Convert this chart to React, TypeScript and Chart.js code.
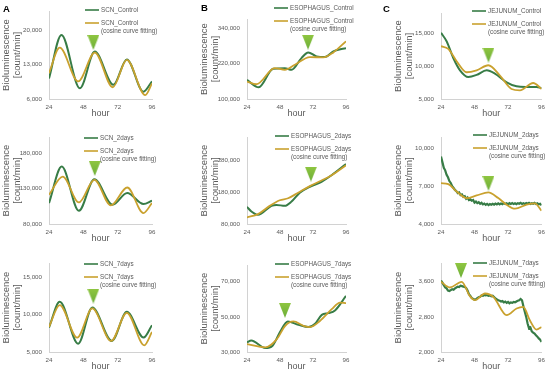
import React, { useEffect, useRef } from 'react';
import { Chart, registerables } from 'chart.js';

Chart.register(...registerables);

// ---------- data ----------
const HOUR_TICKS = [24, 48, 72, 96];
const FIT_NOTE = '(cosine curve fitting)';

// SCN
const SCN_CONTROL_H = [24, 32.7, 45.6, 56, 69, 78.4, 90, 96];
const SCN_CONTROL_V = [10200, 19100, 8200, 15700, 8900, 14100, 7500, 9600];
const SCN_CONTROL_FIT_H = [24, 31.5, 44.4, 56, 68.6, 78.4, 91.3, 96];
const SCN_CONTROL_FIT_V = [11300, 16500, 9600, 15500, 8400, 14000, 6800, 9200];

const SCN_2DAYS_H = [24, 32.9, 44.9, 55.7, 68.4, 78.7, 90, 96];
const SCN_2DAYS_V = [109600, 161200, 98800, 143400, 107200, 123700, 108200, 112900];
const SCN_2DAYS_FIT_H = [24, 33.6, 44.9, 55.7, 67.2, 78.7, 90, 96];
const SCN_2DAYS_FIT_V = [121300, 147100, 110500, 142400, 106300, 131600, 95500, 109600];

const SCN_7DAYS_H = [24, 31.5, 44.4, 54.3, 67.9, 78.4, 90.1, 96];
const SCN_7DAYS_V = [8270, 11730, 6120, 10960, 6480, 10380, 6930, 8590];
const SCN_7DAYS_FIT_H = [24, 31.5, 43.7, 54.3, 67.4, 78.4, 90.6, 96];
const SCN_7DAYS_FIT_V = [8360, 11280, 6930, 10830, 6480, 10250, 5900, 7690];

// ESOPHAGUS
const ESO_CONTROL_H = [24, 32.5, 43, 51.5, 56.4, 63.6, 68.5, 74.6, 80.7, 86.8, 92.8, 96];
const ESO_CONTROL_V = [164500, 139600, 201900, 204100, 198500, 238100, 257300, 243800, 241500, 260700, 268700, 270900];
const ESO_CONTROL_FIT_H = [24, 30.8, 44.2, 51.5, 58.8, 69.7, 79.5, 86.8, 96];
const ESO_CONTROL_FIT_V = [158900, 149800, 204100, 198500, 215500, 241500, 240400, 257300, 294700];

const ESO_2DAYS_H = [24, 27.2, 32, 41.8, 45.4, 51.5, 56.4, 62.4, 69.7, 78.2, 85.5, 96];
const ESO_2DAYS_V = [134200, 119600, 109200, 137300, 140400, 137300, 150800, 179000, 197700, 213300, 234200, 269600];
const ESO_2DAYS_FIT_H = [24, 32, 40.5, 47.8, 53.9, 61.2, 69.7, 78.2, 85.5, 96];
const ESO_2DAYS_FIT_V = [100800, 111300, 137300, 155000, 161300, 179000, 199800, 217500, 234200, 265400];

const ESO_7DAYS_H = [24, 27.1, 37.3, 42.6, 48.2, 53.7, 61.4, 68.7, 73.5, 78.4, 83.2, 88, 96];
const ESO_7DAYS_V = [35470, 36600, 32260, 33590, 41700, 47360, 45470, 44150, 46040, 51130, 52080, 53590, 61890];
const ESO_7DAYS_FIT_H = [24, 37.3, 45.7, 51.8, 57.8, 65.1, 69.9, 77.2, 85.6, 91.6, 96];
const ESO_7DAYS_FIT_V = [34530, 32640, 37360, 44910, 47360, 44910, 44150, 47740, 54340, 58120, 57740];

// JEJUNUM
const JEJ_CONTROL_H = [24, 28.1, 32.8, 37.6, 43.6, 49.5, 56.7, 62.6, 71, 78.1, 85.3, 92.4, 96];
const JEJ_CONTROL_V = [15000, 13700, 11200, 9340, 8330, 8640, 9340, 8840, 7530, 6920, 6820, 6800, 6670];
const JEJ_CONTROL_FIT_H = [24, 29.2, 35.2, 42.4, 49.5, 57.9, 66.2, 74.5, 80.5, 90, 96];
const JEJ_CONTROL_FIT_V = [12980, 12580, 10710, 9040, 9340, 10100, 8540, 6520, 6310, 7420, 6520];

const JEJ_HOURLY_H = [
  24, 25, 26, 27, 28, 29, 30, 31, 32, 33, 34, 35, 36, 37, 38, 39, 40, 41, 42, 43, 44, 45, 46, 47, 48,
  49, 50, 51, 52, 53, 54, 55, 56, 57, 58, 59, 60, 61, 62, 63, 64, 65, 66, 67, 68, 69, 70, 71, 72,
  73, 74, 75, 76, 77, 78, 79, 80, 81, 82, 83, 84, 85, 86, 87, 88, 89, 90, 91, 92, 93, 94, 95, 96,
];
const JEJ_2DAYS_V = [
  9350, 8900, 8450, 8250, 7900, 7700, 7400, 7250, 7000, 6850, 6700, 6600, 6450, 6500, 6300, 6350, 6150, 6200, 6000, 6100, 5900, 5950, 5850, 5900, 5700,
  5780, 5650, 5720, 5600, 5680, 5550, 5620, 5520, 5600, 5500, 5580, 5520, 5600, 5530, 5620, 5550, 5640, 5560, 5630, 5570, 5650, 5580, 5640, 5560,
  5650, 5590, 5660, 5580, 5640, 5570, 5650, 5600, 5670, 5590, 5650, 5580, 5660, 5600, 5680, 5590, 5650, 5600, 5670, 5580, 5640, 5560, 5600, 5480,
];
const JEJ_2DAYS_FIT_H = [24, 29.2, 35.2, 42.4, 49.5, 57.9, 65, 71, 77, 85.3, 91.2, 96];
const JEJ_2DAYS_FIT_V = [7235, 7160, 6580, 6050, 6260, 6500, 6050, 5530, 5210, 5530, 5630, 5050];

const JEJ_7DAYS_V = [
  3630, 3580, 3520, 3470, 3450, 3400, 3390, 3410, 3430, 3420, 3450, 3470, 3490, 3480, 3510, 3500, 3490, 3480, 3460, 3400, 3320, 3280, 3230, 3210, 3190,
  3200, 3230, 3250, 3260, 3290, 3280, 3300, 3290, 3300, 3280, 3290, 3270, 3280, 3250, 3220, 3200, 3180, 3170, 3150, 3160, 3130, 3150, 3120, 3140,
  3110, 3130, 3120, 3140, 3130, 3150, 3170, 3180, 3210, 3180, 3040, 2920, 2800, 2650, 2540, 2560, 2470, 2440, 2420, 2380, 2350, 2310, 2280, 2230,
];
const JEJ_7DAYS_FIT_H = [24, 30.4, 38.8, 44.7, 48.3, 55.5, 61.5, 71, 78.1, 82.9, 87.6, 92.4, 96];
const JEJ_7DAYS_FIT_V = [3600, 3470, 3600, 3272, 3181, 3333, 3257, 2838, 2990, 3029, 2724, 2510, 2571];

// arrow markers (hour, value)
const MARKER_H = [55, 68.4, 58, 56, 70.5, 58, 55, 51.6, 38.3];
const MARKER_V = [17580, 291800, 11640, 158600, 237800, 7220, 12490, 53680, 3856];

// y axes
const Y_MIN = [6000, 100000, 5000, 80000, 80000, 4000, 5000, 30000, 2000];
const Y_MAX = [24000, 370000, 18000, 203000, 355000, 10890, 16920, 79460, 4028];
const Y_TICKS = [
  [6000, 13000, 20000], [100000, 220000, 340000], [5000, 10000, 15000],
  [80000, 130000, 180000], [80000, 180000, 280000], [4000, 7000, 10000],
  [5000, 10000, 15000], [30000, 50000, 70000], [2000, 2800, 3600],
];

// ---------- styling / layout ----------
const OBS = '#377c46';
const FIT = '#c9a12e';
const TEXT = '#595959';
const AXIS = '#d2d2d2';
const FONT = '"Liberation Sans", Arial, sans-serif';

const COLS = [
  { left: 0, width: 183, axis: 49, right: 152 },
  { left: 183, width: 184, axis: 247, right: 346 },
  { left: 367, width: 183, axis: 441, right: 542 },
];
const ROWS = [
  { top: 0, height: 125, bottom: 99 },
  { top: 125, height: 125, bottom: 224 },
  { top: 250, height: 124, bottom: 352 },
];

type Panel = {
  col: number; row: number; chartTop: number;
  obsLabel: string; fitLabel: string;
  obsH: number[]; obsV: number[]; fitH: number[]; fitV: number[];
  noisy: boolean; legend: [number, number]; letter?: string; letterPos?: [number, number];
};

const PANELS: Panel[] = [
  { col: 0, row: 0, chartTop: 11, obsLabel: 'SCN_Control', fitLabel: 'SCN_Control', obsH: SCN_CONTROL_H, obsV: SCN_CONTROL_V, fitH: SCN_CONTROL_FIT_H, fitV: SCN_CONTROL_FIT_V, noisy: false, legend: [85, 10], letter: 'A', letterPos: [3, 9] },
  { col: 1, row: 0, chartTop: 19, obsLabel: 'ESOPHAGUS_Control', fitLabel: 'ESOPHAGUS_Control', obsH: ESO_CONTROL_H, obsV: ESO_CONTROL_V, fitH: ESO_CONTROL_FIT_H, fitV: ESO_CONTROL_FIT_V, noisy: false, legend: [274, 8], letter: 'B', letterPos: [201, 8] },
  { col: 2, row: 0, chartTop: 13, obsLabel: 'JEJUNUM_Control', fitLabel: 'JEJUNUM_Control', obsH: JEJ_CONTROL_H, obsV: JEJ_CONTROL_V, fitH: JEJ_CONTROL_FIT_H, fitV: JEJ_CONTROL_FIT_V, noisy: false, legend: [472, 11], letter: 'C', letterPos: [383, 9] },
  { col: 0, row: 1, chartTop: 137, obsLabel: 'SCN_2days', fitLabel: 'SCN_2days', obsH: SCN_2DAYS_H, obsV: SCN_2DAYS_V, fitH: SCN_2DAYS_FIT_H, fitV: SCN_2DAYS_FIT_V, noisy: false, legend: [84, 138] },
  { col: 1, row: 1, chartTop: 137, obsLabel: 'ESOPHAGUS_2days', fitLabel: 'ESOPHAGUS_2days', obsH: ESO_2DAYS_H, obsV: ESO_2DAYS_V, fitH: ESO_2DAYS_FIT_H, fitV: ESO_2DAYS_FIT_V, noisy: false, legend: [275, 136] },
  { col: 2, row: 1, chartTop: 137, obsLabel: 'JEJUNUM_2days', fitLabel: 'JEJUNUM_2days', obsH: JEJ_HOURLY_H, obsV: JEJ_2DAYS_V, fitH: JEJ_2DAYS_FIT_H, fitV: JEJ_2DAYS_FIT_V, noisy: true, legend: [473, 135] },
  { col: 0, row: 2, chartTop: 263, obsLabel: 'SCN_7days', fitLabel: 'SCN_7days', obsH: SCN_7DAYS_H, obsV: SCN_7DAYS_V, fitH: SCN_7DAYS_FIT_H, fitV: SCN_7DAYS_FIT_V, noisy: false, legend: [84, 264] },
  { col: 1, row: 2, chartTop: 265, obsLabel: 'ESOPHAGUS_7days', fitLabel: 'ESOPHAGUS_7days', obsH: ESO_7DAYS_H, obsV: ESO_7DAYS_V, fitH: ESO_7DAYS_FIT_H, fitV: ESO_7DAYS_FIT_V, noisy: false, legend: [275, 264] },
  { col: 2, row: 2, chartTop: 263, obsLabel: 'JEJUNUM_7days', fitLabel: 'JEJUNUM_7days', obsH: JEJ_HOURLY_H, obsV: JEJ_7DAYS_V, fitH: JEJ_7DAYS_FIT_H, fitV: JEJ_7DAYS_FIT_V, noisy: true, legend: [473, 263] },
];

function pts(h: number[], v: number[]) {
  return h.map((x, i) => ({ x, y: v[i] }));
}

function makeTriangle(): HTMLCanvasElement {
  const c = document.createElement('canvas');
  c.width = 12;
  c.height = 15;
  const g = c.getContext('2d')!;
  const grad = g.createLinearGradient(0, 0, 0, 15);
  grad.addColorStop(0, '#8fc641');
  grad.addColorStop(1, '#6cae38');
  g.fillStyle = grad;
  g.beginPath();
  g.moveTo(0, 0);
  g.lineTo(12, 0);
  g.lineTo(6, 15);
  g.closePath();
  g.fill();
  return c;
}

export default function App() {
  const refs = useRef<(HTMLCanvasElement | null)[]>([]);

  useEffect(() => {
    const tri = makeTriangle();
    const charts = PANELS.map((p, i) => {
      const canvas = refs.current[i]!;
      const c = COLS[p.col];
      const r = ROWS[p.row];
      const yW = c.axis - c.left;
      const xH = 22;
      const padTop = p.chartTop - r.top;
      const padBottom = r.height - (r.bottom - r.top) - xH;
      const padRight = c.width - (c.right - c.left);

      const overlay = {
        id: 'overlay' + i,
        afterDraw(chart: any) {
          const ctx = chart.ctx as CanvasRenderingContext2D;
          const lx = p.legend[0] - c.left;
          const ly = p.legend[1] - r.top;
          ctx.save();
          ctx.lineWidth = 1.6;
          ctx.strokeStyle = OBS;
          ctx.beginPath();
          ctx.moveTo(lx, ly);
          ctx.lineTo(lx + 14, ly);
          ctx.stroke();
          ctx.strokeStyle = FIT;
          ctx.beginPath();
          ctx.moveTo(lx, ly + 13);
          ctx.lineTo(lx + 14, ly + 13);
          ctx.stroke();
          ctx.fillStyle = TEXT;
          ctx.font = `6.3px ${FONT}`;
          ctx.textAlign = 'left';
          ctx.textBaseline = 'middle';
          ctx.fillText(p.obsLabel, lx + 16, ly);
          ctx.fillText(p.fitLabel, lx + 16, ly + 13);
          ctx.fillText(FIT_NOTE, lx + 16, ly + 21.5);
          if (p.letter && p.letterPos) {
            ctx.fillStyle = '#000';
            ctx.font = `bold 9.5px ${FONT}`;
            ctx.fillText(p.letter, p.letterPos[0] - c.left, p.letterPos[1] - r.top);
          }
          ctx.restore();
        },
      };

      return new Chart(canvas, {
        type: 'line',
        data: {
          datasets: [
            {
              data: [{ x: MARKER_H[i], y: MARKER_V[i] }],
              showLine: false,
              pointStyle: tri as any,
              pointRadius: 6,
              borderWidth: 0,
            } as any,
            {
              data: pts(p.fitH, p.fitV),
              borderColor: FIT,
              borderWidth: 1.8,
              pointRadius: 0,
              fill: false,
              cubicInterpolationMode: 'monotone',
            },
            {
              data: pts(p.obsH, p.obsV),
              borderColor: OBS,
              borderWidth: p.noisy ? 2.2 : 2,
              pointRadius: 0,
              fill: false,
              tension: 0,
              cubicInterpolationMode: p.noisy ? 'default' : 'monotone',
            },
          ],
        },
        options: {
          animation: false,
          responsive: false,
          devicePixelRatio: 1,
          events: [],
          layout: { padding: { left: 0, top: padTop, right: padRight, bottom: padBottom } },
          plugins: { legend: { display: false }, tooltip: { enabled: false } },
          scales: {
            x: {
              type: 'linear',
              min: 24,
              max: 96,
              grid: { display: false, drawTicks: false },
              border: { display: true, color: AXIS, width: 1 },
              afterBuildTicks: (s: any) => { s.ticks = HOUR_TICKS.map((v) => ({ value: v })); },
              afterFit: (s: any) => { s.height = xH; },
              ticks: {
                color: TEXT,
                font: { family: FONT, size: 6.2 },
                padding: 5,
                maxRotation: 0,
                autoSkip: false,
                callback: (v: any) => String(v),
              },
              title: {
                display: true,
                text: 'hour',
                color: TEXT,
                font: { family: FONT, size: 9, lineHeight: 1.2 },
                padding: { top: 0, bottom: 1.6 },
              },
            },
            y: {
              type: 'linear',
              min: Y_MIN[i],
              max: Y_MAX[i],
              grid: { display: false, drawTicks: false },
              border: { display: true, color: AXIS, width: 1 },
              afterBuildTicks: (s: any) => { s.ticks = Y_TICKS[i].map((v) => ({ value: v })); },
              afterFit: (s: any) => { s.width = yW; },
              ticks: {
                color: TEXT,
                font: { family: FONT, size: 6.2 },
                padding: 7,
                autoSkip: false,
                callback: (v: any) => Number(v).toLocaleString('en-US'),
              },
              title: {
                display: true,
                text: ['Bioluminescence', '[count/min]'],
                color: TEXT,
                font: { family: FONT, size: 9.5, lineHeight: 1.16 },
                padding: { top: yW - 48, bottom: 0 },
              },
            },
          },
        } as any,
        plugins: [overlay],
      });
    });
    return () => charts.forEach((ch) => ch.destroy());
  }, []);

  return (
    <div style={{ position: 'absolute', left: 0, top: 0, width: 550, height: 374, background: '#fff', overflow: 'hidden' }}>
      {PANELS.map((p, i) => {
        const c = COLS[p.col];
        const r = ROWS[p.row];
        return (
          <canvas
            key={i}
            ref={(el) => { refs.current[i] = el; }}
            width={c.width}
            height={r.height}
            style={{ position: 'absolute', left: c.left, top: r.top, width: c.width, height: r.height }}
          />
        );
      })}
    </div>
  );
}
